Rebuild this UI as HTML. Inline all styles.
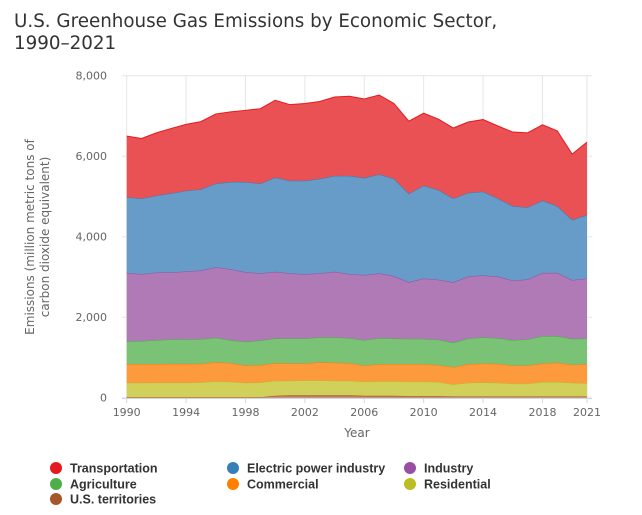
<!DOCTYPE html>
<html><head><meta charset="utf-8"><style>
body{margin:0;background:#fff;width:642px;height:510px;overflow:hidden;font-family:"Liberation Sans","DejaVu Sans",sans-serif}
</style></head><body>
<svg id="chart" width="642" height="510" xmlns="http://www.w3.org/2000/svg" font-family="'DejaVu Sans','Liberation Sans',sans-serif">
<text x="14" y="27" font-size="18.3" fill="#333">U.S. Greenhouse Gas Emissions by Economic Sector,</text>
<text x="14" y="49" font-size="18.3" fill="#333">1990–2021</text>
<g id="grid"></g><g id="areas"></g><g id="axes"></g>
<g font-size="12" fill="#666" text-anchor="middle">
<text transform="translate(34,237) rotate(-90)">Emissions (million metric tons of</text>
<text transform="translate(49,237) rotate(-90)">carbon dioxide equivalent)</text>
</g>
<text x="357" y="437" font-size="12" fill="#666" text-anchor="middle">Year</text>
<g id="legend" font-size="12.5" font-weight="bold" fill="#333" font-family="'Liberation Sans',sans-serif"></g>
</svg>
<script>
const years=[1990,1991,1992,1993,1994,1995,1996,1997,1998,1999,2000,2001,2002,2003,2004,2005,2006,2007,2008,2009,2010,2011,2012,2013,2014,2015,2016,2017,2018,2019,2020,2021];
const territories=[10,10,10,10,10,10,10,10,10,10,50,60,60,60,60,60,50,50,50,40,40,40,30,30,30,30,30,30,30,30,30,30];
const residential=[360,360,365,365,365,370,400,385,360,370,370,360,370,370,360,360,350,360,360,360,360,350,300,340,350,340,320,320,360,360,340,330];
const commercial=[460,460,460,465,465,460,470,465,430,430,440,430,420,450,450,440,400,420,420,430,430,420,430,460,470,470,450,450,460,480,450,470];
const agriculture=[570,580,595,610,610,615,610,570,590,610,610,620,620,620,630,620,630,650,640,630,630,630,610,640,650,640,630,650,680,660,640,640];
const industry=[1700,1660,1680,1660,1690,1705,1750,1760,1730,1670,1660,1620,1600,1590,1630,1590,1620,1610,1550,1410,1500,1490,1500,1540,1540,1530,1480,1490,1570,1570,1460,1490];
const electric=[1880,1880,1910,1970,2000,2020,2080,2170,2240,2230,2340,2300,2320,2350,2380,2440,2410,2460,2420,2200,2310,2230,2080,2080,2080,1940,1850,1790,1800,1660,1500,1580];
const transportation=[1520,1490,1560,1610,1650,1680,1730,1740,1780,1860,1920,1890,1920,1920,1960,1980,1960,1970,1870,1800,1800,1760,1750,1760,1790,1800,1840,1850,1880,1870,1630,1810];
const yTicks=[0,2000,4000,6000,8000];
const yTickLabels=["0","2,000","4,000","6,000","8,000"];
const xTicks=[1990,1994,1998,2002,2006,2010,2014,2018,2021];

const NS="http://www.w3.org/2000/svg";
const x=v=>126.7+(v-1990)*(460.3/31);
const y=v=>397.7-v*(322/8000);
function mk(t,a,p){const e=document.createElementNS(NS,t);for(const k in a)e.setAttribute(k,a[k]);p.appendChild(e);return e;}
const grid=document.getElementById('grid'),axes=document.getElementById('axes'),areas=document.getElementById('areas'),legend=document.getElementById('legend');
yTicks.forEach((t,i)=>{
 const l=mk('line',{x1:122,x2:592,y1:y(t),y2:y(t),stroke:'#e6e6e6'},grid);
 
 
 const tx=mk('text',{x:107,y:y(t)+4,'text-anchor':'end','font-size':11,fill:'#666'},axes);
 tx.textContent=yTickLabels[i];
 
 
});
xTicks.forEach(t=>{
 const l=mk('line',{x1:x(t),x2:x(t),y1:75,y2:398,stroke:'#e6e6e6'},grid);
 
 
 const tk=mk('line',{x1:x(t),x2:x(t),y1:398,y2:403,stroke:'#ccd6eb'},axes);
 
 
 const tx=mk('text',{x:x(t),y:416,'text-anchor':'middle','font-size':11,fill:'#666'},axes);
 tx.textContent=t;
 
 
});
const xl=mk('line',{x1:122,x2:592,y1:398.5,y2:398.5,stroke:'#ccd6eb'},axes);


const series=[
 {n:'U.S. territories',d:territories,c:'#a65628',f:'#bc7b5a',k:'territories'},
 {n:'Residential',d:residential,c:'#bcbd22',f:'#d0d05a',k:'residential'},
 {n:'Commercial',d:commercial,c:'#ff7f00',f:'#fd9a3e',k:'commercial'},
 {n:'Agriculture',d:agriculture,c:'#4daf4a',f:'#7ac276',k:'agriculture'},
 {n:'Industry',d:industry,c:'#984ea3',f:'#b07ab6',k:'industry'},
 {n:'Electric power industry',d:electric,c:'#377eb8',f:'#679bc8',k:'electric'},
 {n:'Transportation',d:transportation,c:'#e41a1c',f:'#ea5154',k:'transportation'}];
let base=years.map(()=>0);
series.forEach(s=>{
 const top=base.map((b,i)=>b+s.d[i]);
 let p='M'+years.map((yr,i)=>x(yr)+','+y(top[i])).join('L');
 for(let i=years.length-1;i>=0;i--)p+='L'+x(years[i])+','+y(base[i]);
 p+='Z';
 const a=mk('path',{d:p,fill:s.f,stroke:'none'},areas);
 
 
 const ln=mk('path',{d:'M'+years.map((yr,i)=>x(yr)+','+y(top[i])).join('L'),fill:'none',stroke:s.c,'stroke-width':1},areas);
 
 
 base=top;
});
const leg=[['Transportation','#e41a1c',56,468],['Electric power industry','#377eb8',233,468],['Industry','#984ea3',410,468],
['Agriculture','#4daf4a',56,484],['Commercial','#ff7f00',233,484],['Residential','#bcbd22',410,484],['U.S. territories','#a65628',56,499]];
leg.forEach(l=>{
 const g=mk('g',{},legend);
 
 
 mk('circle',{cx:l[2],cy:l[3],r:6,fill:l[1]},g);
 const t=mk('text',{x:l[2]+14,y:l[3]+4.5},g);t.textContent=l[0];
});
</script>
</body></html>
